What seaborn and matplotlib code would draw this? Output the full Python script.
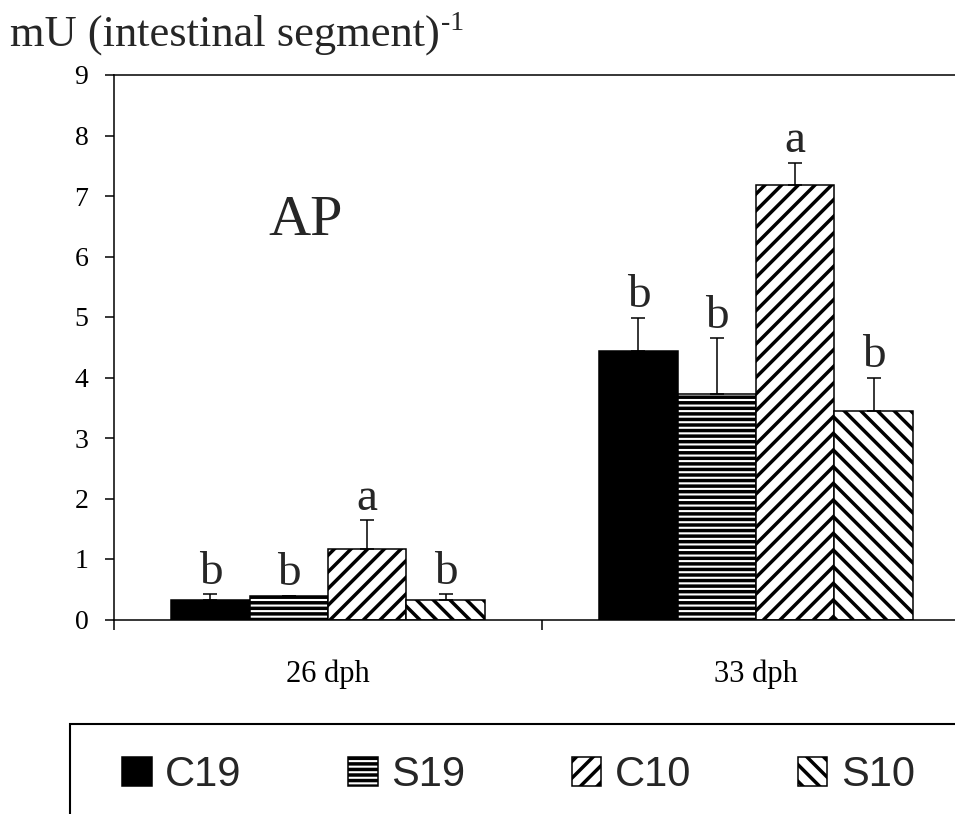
import numpy as np
import pandas as pd
import matplotlib
matplotlib.use("Agg")
import matplotlib.pyplot as plt
import seaborn as sns
from matplotlib.patches import Rectangle

# ---- data ----
groups = ["26 dph", "33 dph"]
series = ["C19", "S19", "C10", "S10"]
c19_mean = [0.33, 4.44]
s19_mean = [0.39, 3.72]
c10_mean = [1.17, 7.18]
s10_mean = [0.32, 3.45]
c19_err = [0.09, 0.55]
s19_err = [0.00, 0.93]
c10_err = [0.47, 0.37]
s10_err = [0.10, 0.55]
c19_let = ["b", "b"]
s19_let = ["b", "b"]
c10_let = ["a", "a"]
s10_let = ["b", "b"]
y_ticks = [0, 1, 2, 3, 4, 5, 6, 7, 8, 9]

means = [c19_mean, s19_mean, c10_mean, s10_mean]
errs = [c19_err, s19_err, c10_err, s10_err]
lets = [c19_let, s19_let, c10_let, s10_let]

rows = []
for s, m in zip(series, means):
    for g, v in zip(groups, m):
        rows.append({"group": g, "series": s, "value": v})
df = pd.DataFrame(rows)

sns.set_theme(style="ticks")
plt.rcParams['font.family'] = ['Liberation Serif', 'DejaVu Serif']
plt.rcParams['hatch.linewidth'] = 2.5
plt.rcParams['axes.edgecolor'] = 'black'
plt.rcParams['axes.linewidth'] = 1.1

W, H = 955, 814
fig = plt.figure(figsize=(W / 100, H / 100), dpi=100)
ax = fig.add_axes([114 / W, 194.5 / H, 856 / W, 544.5 / H])

palette = {"C19": "black", "S19": "white", "C10": "white", "S10": "white"}
sns.barplot(data=df, x="group", y="value", hue="series", order=groups,
            hue_order=series, palette=palette, width=0.733, errorbar=None,
            legend=False, ax=ax, edgecolor="black", linewidth=1.1,
            saturation=1)

hatches = {"C19": None, "S19": "---", "C10": "//", "S10": "\\\\"}
for cont, s in zip(ax.containers, series):
    for bar in cont:
        bar.set_hatch(hatches[s])
        bar.set_edgecolor("black")

for cont, e, lt in zip(ax.containers, errs, lets):
    xs = [b.get_x() + b.get_width() / 2 for b in cont]
    hs = [b.get_height() for b in cont]
    ax.errorbar(xs, hs, yerr=[np.zeros(len(e)), e], fmt="none",
                ecolor="black", elinewidth=1.1, capsize=4.7, capthick=1.1,
                zorder=1)
    for x, h, ee, l in zip(xs, hs, e, lt):
        ax.annotate(l, (x, h + ee), xytext=(0, 7.5), textcoords="offset points",
                    ha="center", va="baseline", fontsize=34)

ax.set_ylim(0, 9)
ax.set_xlim(-0.5, 1.5)
ax.set_yticks(y_ticks)
ax.set_yticklabels([str(t) for t in y_ticks])
ax.tick_params(axis="y", direction="out", length=6.5, width=1.1, pad=12,
               labelsize=20, colors="black")
ax.set_xticks([0, 1])
ax.set_xticklabels(groups)
ax.tick_params(axis="x", which="major", length=0, pad=29, labelsize=22,
               colors="black")
ax.set_xticks([-0.5, 0.5, 1.5], minor=True)
ax.tick_params(axis="x", which="minor", direction="out", length=7.5,
               width=1.1, colors="black")
ax.set_xlabel("")
ax.set_ylabel("")
for sp in ax.spines.values():
    sp.set_visible(True)
    sp.set_color("black")
    sp.set_linewidth(1.1)

# y-axis title with superscript
t_main = fig.text(10 / W, 1 - 46 / H, "mU (intestinal segment)",
                  fontsize=32, va="baseline", ha="left")
renderer = fig.canvas.get_renderer()
bb = t_main.get_window_extent(renderer=renderer)
fig.text((bb.x1 + 1) / W, 1 - 30 / H, "-1", fontsize=20,
         va="baseline", ha="left")

fig.text(268 / W, 1 - 235 / H, "AP", fontsize=42, va="baseline", ha="left")

# legend
fig.add_artist(Rectangle((70 / W, -0.2), 1.0, 0.2 + (H - 724) / H,
                         transform=fig.transFigure, fill=False,
                         edgecolor="black", linewidth=1.5, clip_on=False))
leg = fig.legend(handles=list(ax.containers), labels=series, ncol=4,
                 frameon=False, loc="center left",
                 bbox_to_anchor=(122 / W, 39 / H), borderaxespad=0,
                 borderpad=0, handlelength=0.71, handleheight=0.67,
                 handletextpad=0.33, columnspacing=2.55,
                 prop={"family": "Liberation Sans", "size": 30})

fig.savefig("out.png", dpi=100)
